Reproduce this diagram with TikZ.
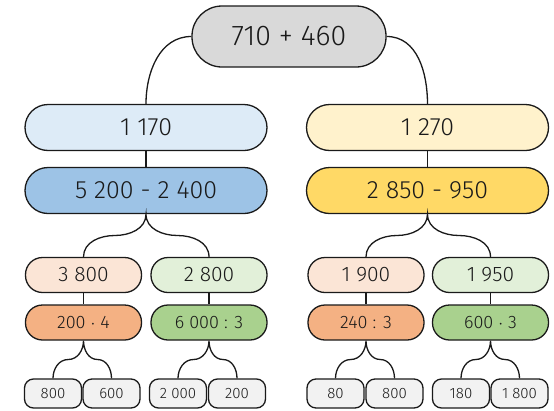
\documentclass[tikz,border=0pt]{standalone}
\usepackage{fontspec}
\setmainfont{Fira Sans}[UprightFont={* Light}]
\usetikzlibrary{calc}
\definecolor{cgray}{HTML}{D9D9D9}
\definecolor{clblue}{HTML}{DDEBF7}
\definecolor{cblue}{HTML}{9DC3E6}
\definecolor{clyel}{HTML}{FFF2CC}
\definecolor{cyel}{HTML}{FFD966}
\definecolor{cpeach}{HTML}{FBE5D6}
\definecolor{corange}{HTML}{F4B183}
\definecolor{clgreen}{HTML}{E2F0D9}
\definecolor{cgreen}{HTML}{A9D18E}
\definecolor{cleaf}{HTML}{F2F2F2}
\definecolor{ink}{HTML}{1A1A1A}
\tikzset{
  box/.style={draw=ink, line width=1.3pt, inner sep=0pt, text=ink},
  pill/.style={box, rounded corners=#1},
  topbox/.style={pill=30pt, minimum width=194pt, minimum height=61pt, fill=cgray, font=\fontsize{28.5}{32}\selectfont},
  bigbox/.style={pill=23pt, minimum width=242pt, minimum height=46pt, font=\fontsize{25}{28}\selectfont},
  midbox/.style={pill=17pt, minimum width=116pt, minimum height=35pt, font=\fontsize{21}{24}\selectfont},
  opbox/.style={pill=17pt, minimum width=116pt, minimum height=35pt, font=\fontsize{18}{21}\selectfont},
  leaf/.style={box, rounded corners=9pt, minimum width=57pt, minimum height=29pt, fill=cleaf, font=\fontsize{15}{18}\selectfont},
  link/.style={draw=ink, line width=1.3pt},
}
\begin{document}
\begin{tikzpicture}[x=1pt,y=-1pt]
\fill[white] (0,0) rectangle (554,410);
\useasboundingbox (0,0) rectangle (554,410);
% nodes
\node[topbox] (top) at (289,36.5) {710 + 460};
\node[bigbox, fill=clblue] (l1) at (146,127.5) {1 170};
\node[bigbox, fill=cblue] (l2) at (146,190.5) {5 200 - 2 400};
\node[bigbox, fill=clyel] (r1) at (427.5,127.5) {1 270};
\node[bigbox, fill=cyel] (r2) at (427.5,190.5) {2 850 - 950};
\node[midbox, fill=cpeach] (a1) at (83.5,275) {3 800};
\node[midbox, fill=clgreen] (b1) at (209,275) {2 800};
\node[midbox, fill=cpeach] (c1) at (366,275) {1 900};
\node[midbox, fill=clgreen] (d1) at (490.5,275) {1 950};
\node[opbox, fill=corange] (a2) at (83.5,322.5) {200 $\cdot$ 4};
\node[opbox, fill=cgreen] (b2) at (209,322.5) {6 000 : 3};
\node[opbox, fill=corange] (c2) at (366,322.5) {240 : 3};
\node[opbox, fill=cgreen] (d2) at (490.5,322.5) {600 $\cdot$ 3};
\node[leaf] (a3) at (53,393.5) {800};
\node[leaf] (a4) at (111.5,393.5) {600};
\node[leaf] (b3) at (178,393.5) {2 000};
\node[leaf] (b4) at (237,393.5) {200};
\node[leaf] (c3) at (335.5,393.5) {80};
\node[leaf] (c4) at (394.5,393.5) {800};
\node[leaf] (d3) at (461,393.5) {180};
\node[leaf] (d4) at (519.5,393.5) {1 800};
% connectors
\draw[link] (top.west) to[out=180,in=90] (l1.north);
\draw[link] (top.east) to[out=0,in=90] (r1.north);
\draw[link] (l1.south) -- (l2.north);
\draw[link] (r1.south) -- (r2.north);
\draw[link] (a1.south) -- (a2.north);
\draw[link] (b1.south) -- (b2.north);
\draw[link] (c1.south) -- (c2.north);
\draw[link] (d1.south) -- (d2.north);
\foreach \p/\u/\v in {l2/a1/b1, r2/c1/d1, a2/a3/a4, b2/b3/b4, c2/c3/c4, d2/d3/d4}{
  \draw[link] (\u.north) to[out=90,in=180] ($(\p.south)!0.5!(\u.north)$) to[out=0,in=-90] (\p.south)
     to[out=-90,in=180] ($(\p.south)!0.5!(\v.north)$) to[out=0,in=90] (\v.north);
}
\end{tikzpicture}
\end{document}
